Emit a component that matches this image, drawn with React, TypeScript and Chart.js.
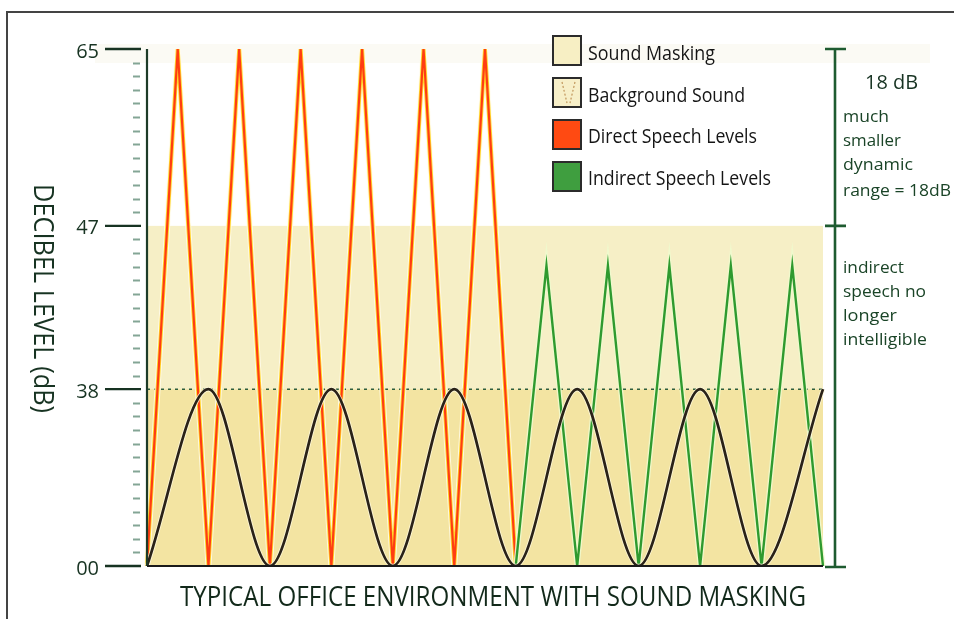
import React, { useEffect, useRef } from 'react';
import { Chart, registerables } from 'chart.js';

Chart.register(...registerables);

// ---- data ----
const yTickDb = [0, 38, 47, 65];
const yTickLabels = ['00', '38', '47', '65'];
const yTickUnits = [0, 13, 25, 38]; // axis drawn as 38 equal minor steps
const yMinorSteps = 38;

const directX = [0, 1, 2, 3, 4, 5, 6, 7, 8, 9, 10, 11, 12];
const directDb = [0, 65, 0, 65, 0, 65, 0, 65, 0, 65, 0, 65, 0];

const indirectX = [12, 13, 14, 15, 16, 17, 18, 19, 20, 21, 22];
const indirectDb = [0, 44.8, 0, 44.8, 0, 44.8, 0, 44.8, 0, 44.8, 0];

const backgroundX = [0, 2, 4, 6, 8, 10, 12, 14, 16, 18, 20, 22];
const backgroundDb = [0, 38, 0, 38, 0, 38, 0, 38, 0, 38, 0, 38];

const maskingBandDb = [38, 47];
const backgroundBandDb = [0, 38];

const legendLabels = ['Sound Masking', 'Background Sound', 'Direct Speech Levels', 'Indirect Speech Levels'];
const xTitle = 'TYPICAL OFFICE ENVIRONMENT WITH SOUND MASKING';
const yTitle = 'DECIBEL LEVEL (dB)';
const rangeTitle = '18 dB';
const rangeNote = ['much', 'smaller', 'dynamic', 'range = 18dB'];
const intelNote = ['indirect', 'speech no', 'longer', 'intelligible'];

// map a dB value onto the drawn (piecewise) axis units
function dbToUnits(db: number): number {
  for (let i = 1; i < yTickDb.length; i++) {
    if (db <= yTickDb[i]) {
      const t = (db - yTickDb[i - 1]) / (yTickDb[i] - yTickDb[i - 1]);
      return yTickUnits[i - 1] + t * (yTickUnits[i] - yTickUnits[i - 1]);
    }
  }
  return yTickUnits[yTickUnits.length - 1];
}

function pts(xs: number[], ys: number[]) {
  return xs.map((x, i) => ({ x, y: dbToUnits(ys[i]) }));
}

const FONT = '"Open Sans", "Noto Sans", sans-serif';

function fitText(ctx: CanvasRenderingContext2D, text: string, x: number, y: number, width: number, size: number, color: string, weight = 400) {
  ctx.save();
  ctx.font = `${weight} ${size}px ${FONT}`;
  ctx.fillStyle = color;
  ctx.textBaseline = 'alphabetic';
  ctx.textAlign = 'left';
  const m = ctx.measureText(text).width;
  ctx.translate(x, y);
  ctx.scale(width / m, 1);
  ctx.fillText(text, 0, 0);
  ctx.restore();
}

const decorPlugin = {
  id: 'decor',
  beforeDatasetsDraw(chart: any) {
    const { ctx, chartArea, scales } = chart;
    const { left, right } = chartArea;
    const y = scales.y;
    ctx.save();
    // very faint upper band
    ctx.fillStyle = '#fbfaf4';
    ctx.fillRect(95, 44, 835, 19);
    // sound masking band
    const m0 = y.getPixelForValue(dbToUnits(maskingBandDb[0]));
    const m1 = y.getPixelForValue(dbToUnits(maskingBandDb[1]));
    ctx.fillStyle = '#f6efc6';
    ctx.fillRect(left, m1, right - left, m0 - m1);
    // background band
    const b0 = y.getPixelForValue(dbToUnits(backgroundBandDb[0]));
    const b1 = y.getPixelForValue(dbToUnits(backgroundBandDb[1]));
    ctx.fillStyle = '#f3e4a2';
    ctx.fillRect(left, b1, right - left, b0 - b1);
    // dashed line at 38
    ctx.strokeStyle = '#2e5e3e';
    ctx.lineWidth = 1.5;
    ctx.setLineDash([3, 4]);
    ctx.beginPath();
    ctx.moveTo(left, b1);
    ctx.lineTo(right, b1);
    ctx.stroke();
    ctx.restore();
  },
  afterDatasetsDraw(chart: any) {
    const { ctx, chartArea, scales } = chart;
    const { left, right, top, bottom } = chartArea;
    const y = scales.y;
    ctx.save();
    // frame
    ctx.strokeStyle = '#444444';
    ctx.lineWidth = 2;
    ctx.beginPath();
    ctx.moveTo(7, 619);
    ctx.lineTo(7, 12);
    ctx.lineTo(954, 12);
    ctx.stroke();

    // left axis line
    ctx.strokeStyle = '#1d3b28';
    ctx.lineWidth = 2.2;
    ctx.beginPath();
    ctx.moveTo(left, top);
    ctx.lineTo(left, bottom);
    ctx.stroke();
    // bottom axis line
    ctx.strokeStyle = '#1a1a1a';
    ctx.lineWidth = 2;
    ctx.beginPath();
    ctx.moveTo(left, bottom);
    ctx.lineTo(right, bottom);
    ctx.stroke();

    // minor ticks
    ctx.strokeStyle = '#83a595';
    ctx.lineWidth = 2;
    for (let u = 0; u <= yMinorSteps; u++) {
      if (yTickUnits.includes(u)) continue;
      const py = Math.round(y.getPixelForValue(u)) + 0.5;
      ctx.beginPath();
      ctx.moveTo(133, py);
      ctx.lineTo(140, py);
      ctx.stroke();
    }
    // major ticks + labels
    ctx.strokeStyle = '#173322';
    ctx.lineWidth = 2.4;
    ctx.font = `500 20px ${FONT}`;
    ctx.fillStyle = '#173322';
    ctx.textAlign = 'right';
    ctx.textBaseline = 'alphabetic';
    yTickUnits.forEach((u, i) => {
      const py = y.getPixelForValue(u);
      ctx.beginPath();
      ctx.moveTo(105, py);
      ctx.lineTo(141, py);
      ctx.stroke();
      ctx.fillText(yTickLabels[i], 99, py + 8.5);
    });

    // y title (reads top to bottom)
    ctx.save();
    ctx.font = `28px ${FONT}`;
    const yw = ctx.measureText(yTitle).width;
    ctx.translate(34, 184);
    ctx.rotate(Math.PI / 2);
    ctx.scale(229 / yw, 1);
    ctx.fillStyle = '#173322';
    ctx.textAlign = 'left';
    ctx.textBaseline = 'alphabetic';
    ctx.fillText(yTitle, 0, 0);
    ctx.restore();

    // x title
    fitText(ctx, xTitle, 180, 606, 626, 28, '#12291a');

    // legend
    const boxTops = [36, 78, 120, 162];
    const baselines = [60, 102, 143, 185];
    const widths = [127, 157, 169, 183];
    const fills = ['#f7efc4', '#f7efc8', '#ff4a12', '#3f9e3f'];
    legendLabels.forEach((lab, i) => {
      ctx.fillStyle = fills[i];
      ctx.fillRect(553, boxTops[i], 28, 29);
      if (i === 1) {
        ctx.save();
        ctx.strokeStyle = '#c0955a';
        ctx.lineWidth = 1.2;
        ctx.setLineDash([2, 2]);
        ctx.beginPath();
        ctx.moveTo(562, boxTops[i] + 4);
        ctx.lineTo(567, boxTops[i] + 25);
        ctx.moveTo(575, boxTops[i] + 4);
        ctx.lineTo(570, boxTops[i] + 25);
        ctx.stroke();
        ctx.restore();
      }
      ctx.strokeStyle = '#2b2b2b';
      ctx.lineWidth = 2;
      ctx.strokeRect(553, boxTops[i], 28, 29);
      fitText(ctx, lab, 588, baselines[i], widths[i], 20, '#151515', 500);
    });

    // right range bar
    const p65 = y.getPixelForValue(dbToUnits(65));
    const p47 = y.getPixelForValue(dbToUnits(47));
    const p0 = y.getPixelForValue(dbToUnits(0));
    ctx.strokeStyle = '#1e5b30';
    ctx.lineWidth = 2.6;
    ctx.beginPath();
    ctx.moveTo(835, p65);
    ctx.lineTo(835, p0 + 1);
    [p65, p47, p0 + 1].forEach((py) => {
      ctx.moveTo(825, py);
      ctx.lineTo(846, py);
    });
    ctx.stroke();

    fitText(ctx, rangeTitle, 865, 89, 53, 20, '#173322', 500);
    const rb = [122, 146, 170, 196];
    const rw = [46, 58, 70, 108];
    rangeNote.forEach((t, i) => fitText(ctx, t, 843, rb[i], rw[i], 17, '#1a4427', 500));
    const ib = [273, 297, 321, 345];
    const iw = [61, 83, 54, 84];
    intelNote.forEach((t, i) => fitText(ctx, t, 843, ib[i], iw[i], 17, '#1a4427', 500));

    ctx.restore();
  },
};

export default function App() {
  const ref = useRef<HTMLCanvasElement>(null);
  useEffect(() => {
    if (!ref.current) return;
    const common = {
      pointRadius: 0,
      pointHoverRadius: 0,
      fill: false,
      clip: { left: false, top: false, right: false, bottom: 0 } as any,
      tension: 0,
    };
    const chart = new Chart(ref.current, {
      type: 'line',
      data: {
        datasets: [
          { ...common, label: 'Background Sound', data: pts(backgroundX, backgroundDb), borderColor: '#2a2218', borderWidth: 2.7, cubicInterpolationMode: 'monotone', order: 0 },
          { ...common, label: 'bg halo', data: pts(backgroundX, backgroundDb), borderColor: 'rgba(255,250,225,0.8)', borderWidth: 4.5, cubicInterpolationMode: 'monotone', order: 1 },
          { ...common, label: 'Indirect Speech Levels', data: pts(indirectX, indirectDb), borderColor: '#2f9a2f', borderWidth: 2.4, order: 2 },
          { ...common, label: 'ind halo', data: pts(indirectX, indirectDb), borderColor: 'rgba(240,250,205,0.9)', borderWidth: 5, order: 3 },
          { ...common, label: 'Direct Speech Levels', data: pts(directX, directDb), borderColor: '#ff3d12', borderWidth: 2.2, order: 4 },
          { ...common, label: 'dir yellow', data: pts(directX, directDb), borderColor: '#ffd52a', borderWidth: 4, order: 5 },
          { ...common, label: 'dir halo', data: pts(directX, directDb), borderColor: 'rgba(255,252,235,0.85)', borderWidth: 6, order: 6 },
        ] as any,
      },
      options: {
        responsive: false,
        animation: false,
        devicePixelRatio: 1,
        layout: { padding: { left: 147, right: 131, top: 49, bottom: 53 } },
        plugins: { legend: { display: false }, tooltip: { enabled: false }, title: { display: false } },
        scales: {
          x: { type: 'linear', min: 0, max: 22, display: false },
          y: { type: 'linear', min: 0, max: yMinorSteps, display: false },
        },
      },
      plugins: [decorPlugin],
    });
    return () => chart.destroy();
  }, []);
  return (
    <div style={{ position: 'fixed', left: 0, top: 0, width: 954, height: 619, background: '#fff' }}>
      <canvas ref={ref} width={954} height={619} style={{ display: 'block' }} />
    </div>
  );
}
